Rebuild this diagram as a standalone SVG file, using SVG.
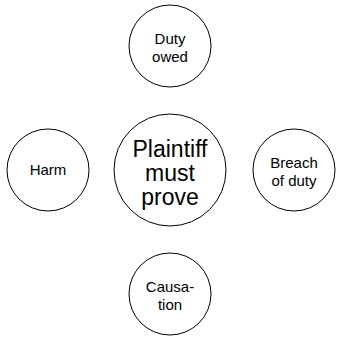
<svg xmlns="http://www.w3.org/2000/svg" width="340" height="343" viewBox="0 0 340 343">
<style>
  circle { fill: #ffffff; stroke: #000000; stroke-width: 1; }
  text { font-family: "Liberation Sans", Arial, sans-serif; fill: #000000; text-anchor: middle; }
  .big { font-size: 23px; }
  .small { font-size: 15px; }
</style>
<rect width="340" height="343" fill="#ffffff"/>
<g id="center">
  <circle cx="170" cy="170" r="56"/>
  <text class="big" x="170" y="157">Plaintiff</text>
  <text class="big" x="170" y="181">must</text>
  <text class="big" x="170" y="205">prove</text>
</g>
<g id="duty">
  <circle cx="170" cy="46" r="41"/>
  <text class="small" x="170" y="44">Duty</text>
  <text class="small" x="170" y="62">owed</text>
</g>
<g id="breach">
  <circle cx="294" cy="170" r="41"/>
  <text class="small" x="294" y="168">Breach</text>
  <text class="small" x="294" y="186">of duty</text>
</g>
<g id="causation">
  <circle cx="170" cy="294" r="41"/>
  <text class="small" x="170" y="292">Causa-</text>
  <text class="small" x="170" y="310">tion</text>
</g>
<g id="harm">
  <circle cx="48" cy="170" r="41"/>
  <text class="small" x="48" y="175">Harm</text>
</g>
</svg>
